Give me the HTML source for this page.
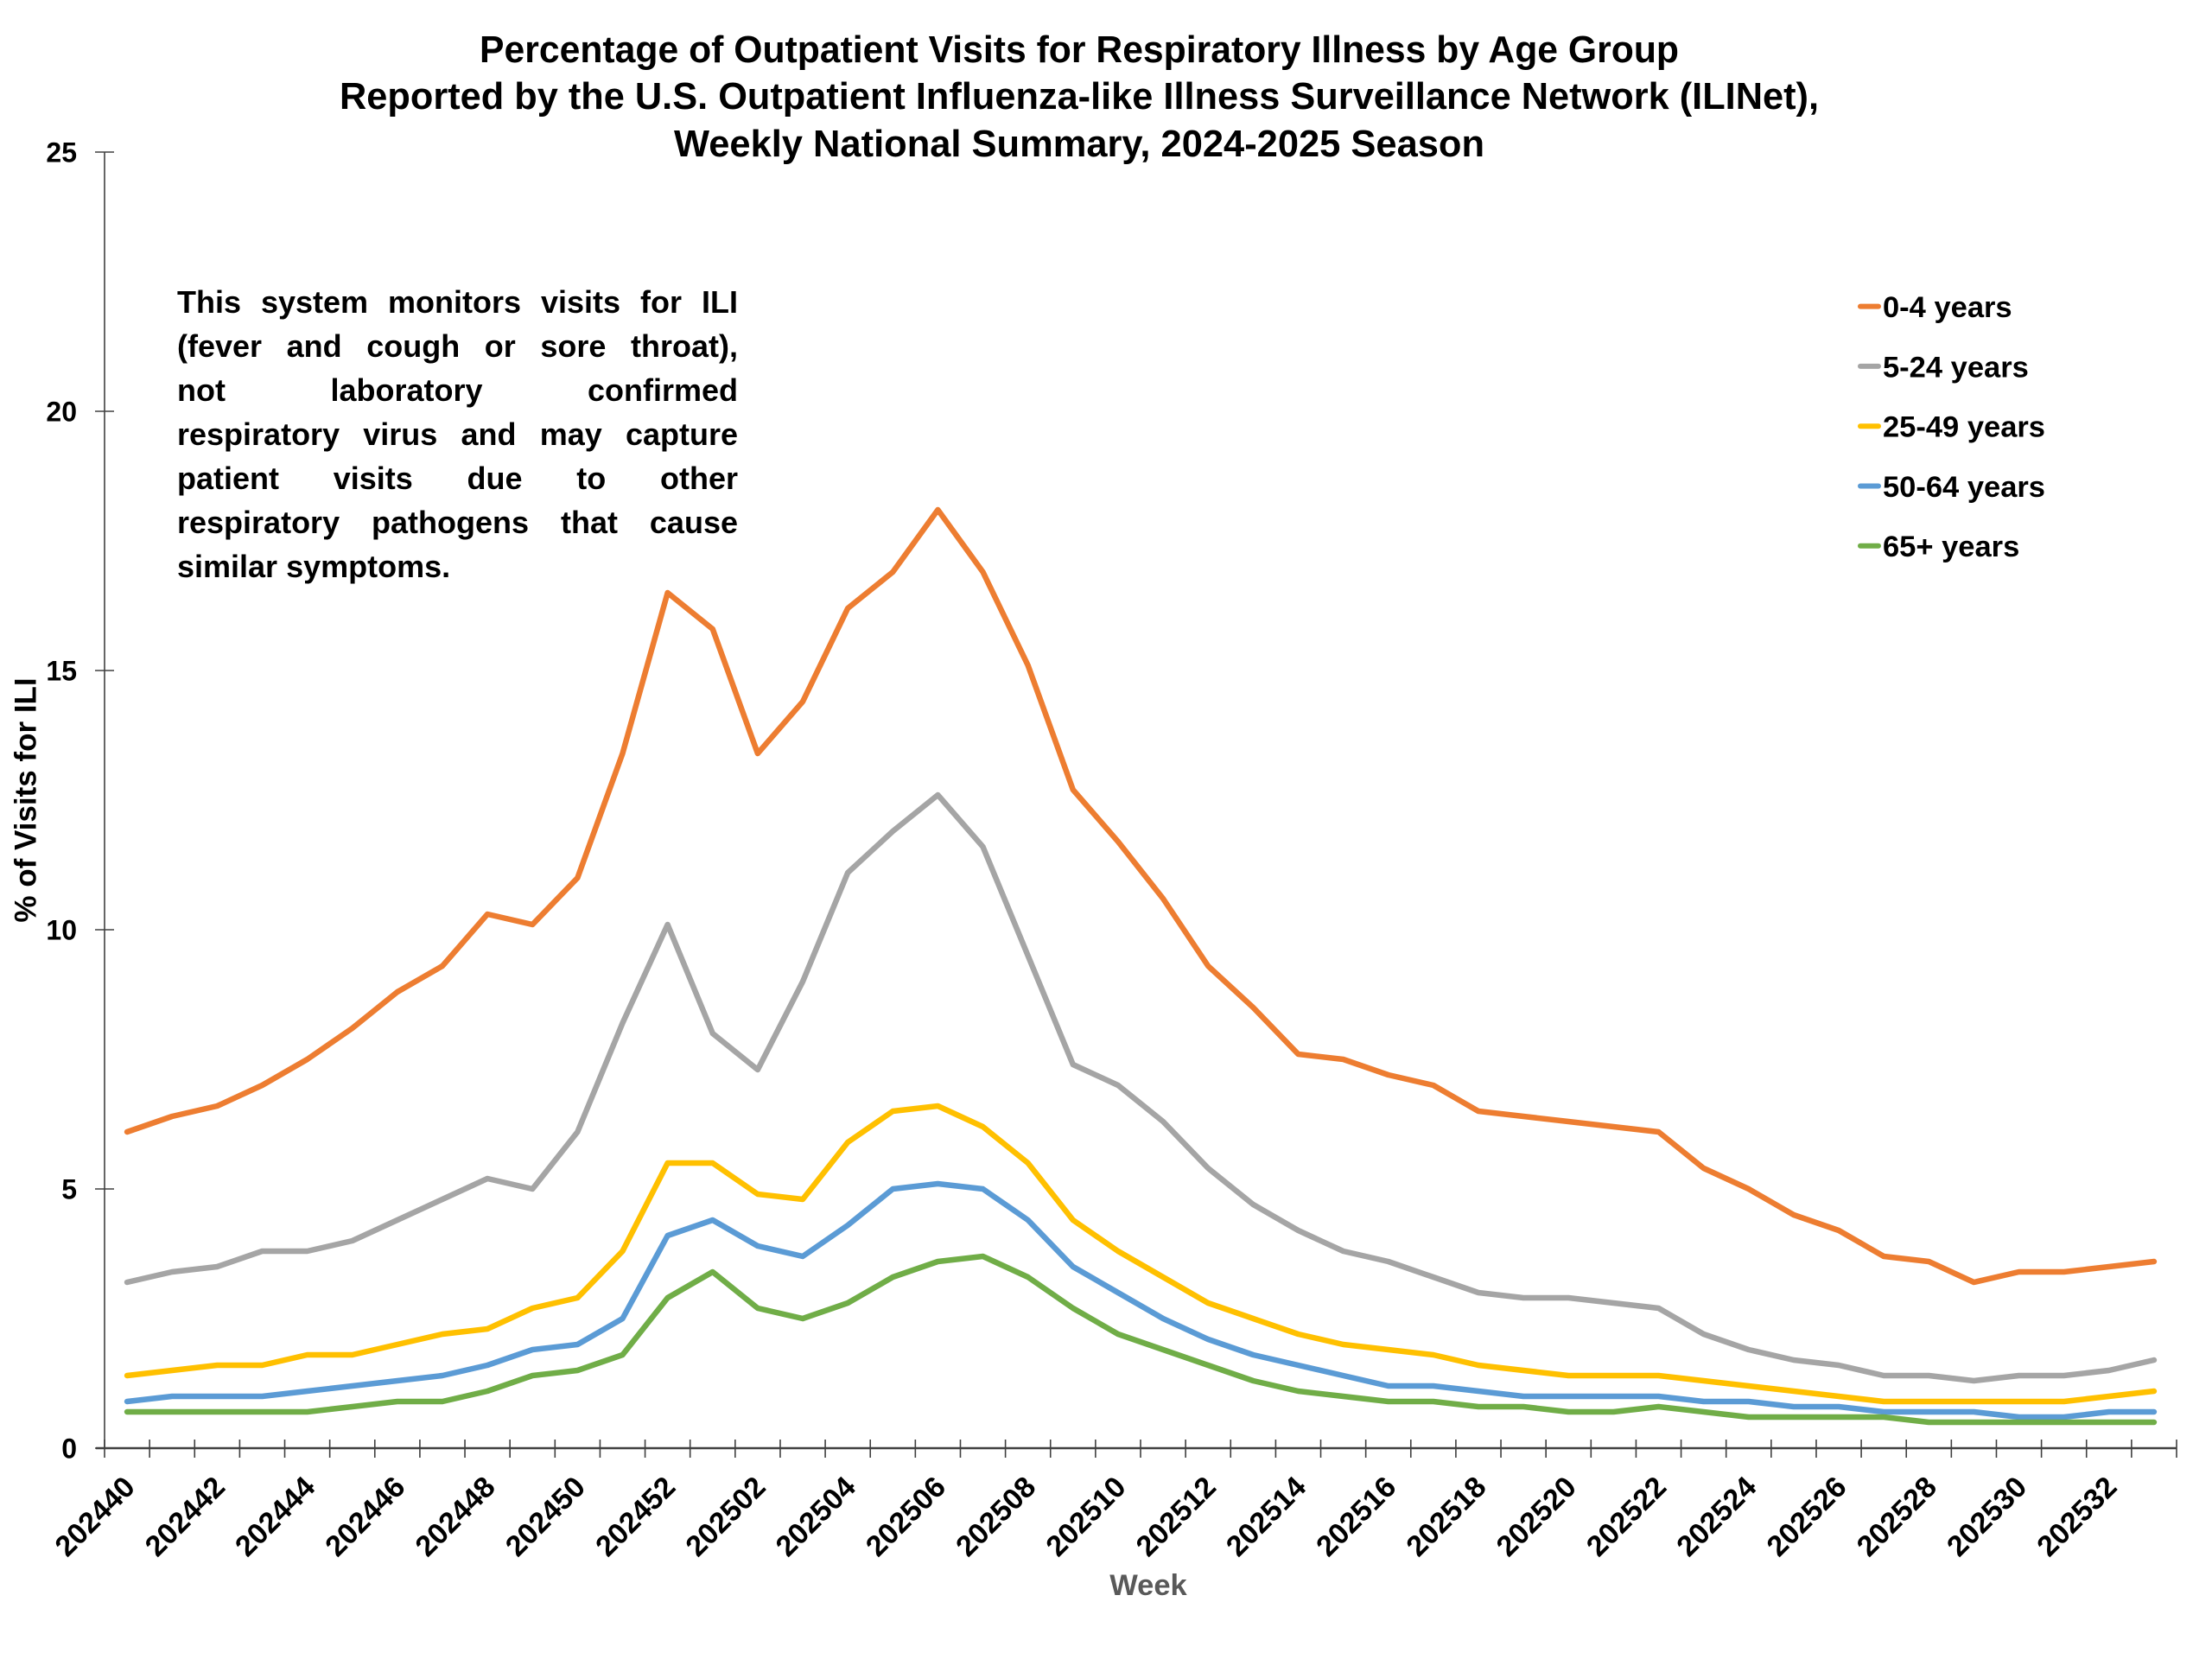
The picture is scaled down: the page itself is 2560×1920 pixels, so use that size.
<!DOCTYPE html>
<html>
<head>
<meta charset="utf-8">
<style>
html,body{margin:0;padding:0;background:#fff;}
#wrap{position:relative;width:2560px;height:1920px;overflow:hidden;background:#fff;}
svg{position:absolute;left:0;top:0;}
.ln{position:absolute;left:205px;width:649px;font-family:"Liberation Sans",sans-serif;font-weight:bold;font-size:36px;line-height:51px;color:#000;margin:0;padding:0;}
.j{text-align:justify;text-align-last:justify;}
</style>
</head>
<body>
<div id="wrap">
<svg width="2560" height="1920" viewBox="0 0 2560 1920" xmlns="http://www.w3.org/2000/svg">
  <rect x="0" y="0" width="2560" height="1920" fill="#fff"/>

  <!-- Title -->
  <g font-family="Liberation Sans, sans-serif" font-weight="bold" font-size="44" fill="#000" text-anchor="middle">
    <text x="1249" y="72" textLength="1388" lengthAdjust="spacingAndGlyphs">Percentage of Outpatient Visits for Respiratory Illness by Age Group</text>
    <text x="1249" y="126" textLength="1712" lengthAdjust="spacingAndGlyphs">Reported by the U.S. Outpatient Influenza-like Illness Surveillance Network (ILINet),</text>
    <text x="1249" y="181" textLength="938" lengthAdjust="spacingAndGlyphs">Weekly National Summary, 2024-2025 Season</text>
  </g>

  <!-- Axes -->
  <line x1="121" y1="176" x2="121" y2="1676" stroke="#404040" stroke-width="1.6"/>
  <line x1="111" y1="1676" x2="2519" y2="1676" stroke="#404040" stroke-width="2.5"/>
  <!-- Y ticks -->
  <path d="M110,176H132 M110,476H132 M110,776H132 M110,1076H132 M110,1376H132 M110,1676H132" stroke="#404040" stroke-width="1.6" fill="none"/>
  <!-- X ticks -->
  <g transform="translate(121,0) scale(52.1304,1)">
    <path vector-effect="non-scaling-stroke" stroke="#404040" stroke-width="1.6" fill="none"
      d="M0,1666V1687 M1,1666V1687 M2,1666V1687 M3,1666V1687 M4,1666V1687 M5,1666V1687 M6,1666V1687 M7,1666V1687 M8,1666V1687 M9,1666V1687 M10,1666V1687 M11,1666V1687 M12,1666V1687 M13,1666V1687 M14,1666V1687 M15,1666V1687 M16,1666V1687 M17,1666V1687 M18,1666V1687 M19,1666V1687 M20,1666V1687 M21,1666V1687 M22,1666V1687 M23,1666V1687 M24,1666V1687 M25,1666V1687 M26,1666V1687 M27,1666V1687 M28,1666V1687 M29,1666V1687 M30,1666V1687 M31,1666V1687 M32,1666V1687 M33,1666V1687 M34,1666V1687 M35,1666V1687 M36,1666V1687 M37,1666V1687 M38,1666V1687 M39,1666V1687 M40,1666V1687 M41,1666V1687 M42,1666V1687 M43,1666V1687 M44,1666V1687 M45,1666V1687 M46,1666V1687"/>
  </g>

  <!-- Y tick labels -->
  <g font-family="Liberation Sans, sans-serif" font-weight="bold" font-size="32" fill="#000" text-anchor="end">
    <text x="89" y="1687.5">0</text>
    <text x="89" y="1387.5">5</text>
    <text x="89" y="1087.5">10</text>
    <text x="89" y="787.5">15</text>
    <text x="89" y="487.5">20</text>
    <text x="89" y="187.5">25</text>
  </g>

  <!-- Y axis title -->
  <text transform="translate(41.5,926) rotate(-90)" font-family="Liberation Sans, sans-serif" font-weight="bold" font-size="35" fill="#000" text-anchor="middle">% of Visits for ILI</text>

  <!-- X tick labels -->
  <g font-family="Liberation Sans, sans-serif" font-weight="bold" font-size="34" fill="#000" text-anchor="end">
    <text transform="translate(158,1723) rotate(-45)">202440</text>
    <text transform="translate(262.26,1723) rotate(-45)">202442</text>
    <text transform="translate(366.52,1723) rotate(-45)">202444</text>
    <text transform="translate(470.78,1723) rotate(-45)">202446</text>
    <text transform="translate(575.04,1723) rotate(-45)">202448</text>
    <text transform="translate(679.3,1723) rotate(-45)">202450</text>
    <text transform="translate(783.56,1723) rotate(-45)">202452</text>
    <text transform="translate(887.82,1723) rotate(-45)">202502</text>
    <text transform="translate(992.08,1723) rotate(-45)">202504</text>
    <text transform="translate(1096.34,1723) rotate(-45)">202506</text>
    <text transform="translate(1200.6,1723) rotate(-45)">202508</text>
    <text transform="translate(1304.86,1723) rotate(-45)">202510</text>
    <text transform="translate(1409.12,1723) rotate(-45)">202512</text>
    <text transform="translate(1513.38,1723) rotate(-45)">202514</text>
    <text transform="translate(1617.64,1723) rotate(-45)">202516</text>
    <text transform="translate(1721.9,1723) rotate(-45)">202518</text>
    <text transform="translate(1826.16,1723) rotate(-45)">202520</text>
    <text transform="translate(1930.42,1723) rotate(-45)">202522</text>
    <text transform="translate(2034.68,1723) rotate(-45)">202524</text>
    <text transform="translate(2138.94,1723) rotate(-45)">202526</text>
    <text transform="translate(2243.2,1723) rotate(-45)">202528</text>
    <text transform="translate(2347.46,1723) rotate(-45)">202530</text>
    <text transform="translate(2451.72,1723) rotate(-45)">202532</text>
  </g>

  <!-- X axis title -->
  <text x="1329" y="1846" font-family="Liberation Sans, sans-serif" font-weight="bold" font-size="34.5" fill="#595959" text-anchor="middle">Week</text>

  <!-- Series -->
  <g transform="translate(147.065,1676) scale(52.1304,-60)" fill="none" stroke-linejoin="round" stroke-linecap="round">
    <polyline vector-effect="non-scaling-stroke" stroke="#ED7D31" stroke-width="6.5"
      points="0,6.1 1,6.4 2,6.6 3,7.0 4,7.5 5,8.1 6,8.8 7,9.3 8,10.3 9,10.1 10,11.0 11,13.4 12,16.5 13,15.8 14,13.4 15,14.4 16,16.2 17,16.9 18,18.1 19,16.9 20,15.1 21,12.7 22,11.7 23,10.6 24,9.3 25,8.5 26,7.6 27,7.5 28,7.2 29,7.0 30,6.5 31,6.4 32,6.3 33,6.2 34,6.1 35,5.4 36,5.0 37,4.5 38,4.2 39,3.7 40,3.6 41,3.2 42,3.4 43,3.4 44,3.5 45,3.6"/>
    <polyline vector-effect="non-scaling-stroke" stroke="#A5A5A5" stroke-width="6.5"
      points="0,3.2 1,3.4 2,3.5 3,3.8 4,3.8 5,4.0 6,4.4 7,4.8 8,5.2 9,5.0 10,6.1 11,8.2 12,10.1 13,8.0 14,7.3 15,9.0 16,11.1 17,11.9 18,12.6 19,11.6 20,9.5 21,7.4 22,7.0 23,6.3 24,5.4 25,4.7 26,4.2 27,3.8 28,3.6 29,3.3 30,3.0 31,2.9 32,2.9 33,2.8 34,2.7 35,2.2 36,1.9 37,1.7 38,1.6 39,1.4 40,1.4 41,1.3 42,1.4 43,1.4 44,1.5 45,1.7"/>
    <polyline vector-effect="non-scaling-stroke" stroke="#FFC000" stroke-width="6.5"
      points="0,1.4 1,1.5 2,1.6 3,1.6 4,1.8 5,1.8 6,2.0 7,2.2 8,2.3 9,2.7 10,2.9 11,3.8 12,5.5 13,5.5 14,4.9 15,4.8 16,5.9 17,6.5 18,6.6 19,6.2 20,5.5 21,4.4 22,3.8 23,3.3 24,2.8 25,2.5 26,2.2 27,2.0 28,1.9 29,1.8 30,1.6 31,1.5 32,1.4 33,1.4 34,1.4 35,1.3 36,1.2 37,1.1 38,1.0 39,0.9 40,0.9 41,0.9 42,0.9 43,0.9 44,1.0 45,1.1"/>
    <polyline vector-effect="non-scaling-stroke" stroke="#5B9BD5" stroke-width="6.5"
      points="0,0.9 1,1.0 2,1.0 3,1.0 4,1.1 5,1.2 6,1.3 7,1.4 8,1.6 9,1.9 10,2.0 11,2.5 12,4.1 13,4.4 14,3.9 15,3.7 16,4.3 17,5.0 18,5.1 19,5.0 20,4.4 21,3.5 22,3.0 23,2.5 24,2.1 25,1.8 26,1.6 27,1.4 28,1.2 29,1.2 30,1.1 31,1.0 32,1.0 33,1.0 34,1.0 35,0.9 36,0.9 37,0.8 38,0.8 39,0.7 40,0.7 41,0.7 42,0.6 43,0.6 44,0.7 45,0.7"/>
    <polyline vector-effect="non-scaling-stroke" stroke="#70AD47" stroke-width="6.5"
      points="0,0.7 1,0.7 2,0.7 3,0.7 4,0.7 5,0.8 6,0.9 7,0.9 8,1.1 9,1.4 10,1.5 11,1.8 12,2.9 13,3.4 14,2.7 15,2.5 16,2.8 17,3.3 18,3.6 19,3.7 20,3.3 21,2.7 22,2.2 23,1.9 24,1.6 25,1.3 26,1.1 27,1.0 28,0.9 29,0.9 30,0.8 31,0.8 32,0.7 33,0.7 34,0.8 35,0.7 36,0.6 37,0.6 38,0.6 39,0.6 40,0.5 41,0.5 42,0.5 43,0.5 44,0.5 45,0.5"/>
  </g>

  <!-- Legend -->
  <g stroke-width="6" stroke-linecap="round">
    <line x1="2153" y1="354.6" x2="2174" y2="354.6" stroke="#ED7D31"/>
    <line x1="2153" y1="423.9" x2="2174" y2="423.9" stroke="#A5A5A5"/>
    <line x1="2153" y1="493.2" x2="2174" y2="493.2" stroke="#FFC000"/>
    <line x1="2153" y1="562.5" x2="2174" y2="562.5" stroke="#5B9BD5"/>
    <line x1="2153" y1="631.8" x2="2174" y2="631.8" stroke="#70AD47"/>
  </g>
  <g font-family="Liberation Sans, sans-serif" font-weight="bold" font-size="34.5" fill="#000">
    <text x="2179" y="367">0-4 years</text>
    <text x="2179" y="436.3">5-24 years</text>
    <text x="2179" y="505.6">25-49 years</text>
    <text x="2179" y="574.9">50-64 years</text>
    <text x="2179" y="644.2">65+ years</text>
  </g>
</svg>

<div class="ln j" style="top:323.5px">This system monitors visits for ILI</div>
<div class="ln j" style="top:374.5px">(fever and cough or sore throat),</div>
<div class="ln j" style="top:425.5px">not laboratory confirmed</div>
<div class="ln j" style="top:476.5px">respiratory virus and may capture</div>
<div class="ln j" style="top:527.5px">patient visits due to other</div>
<div class="ln j" style="top:578.5px">respiratory pathogens that cause</div>
<div class="ln" style="top:629.5px">similar symptoms.</div>
</div>
</body>
</html>
